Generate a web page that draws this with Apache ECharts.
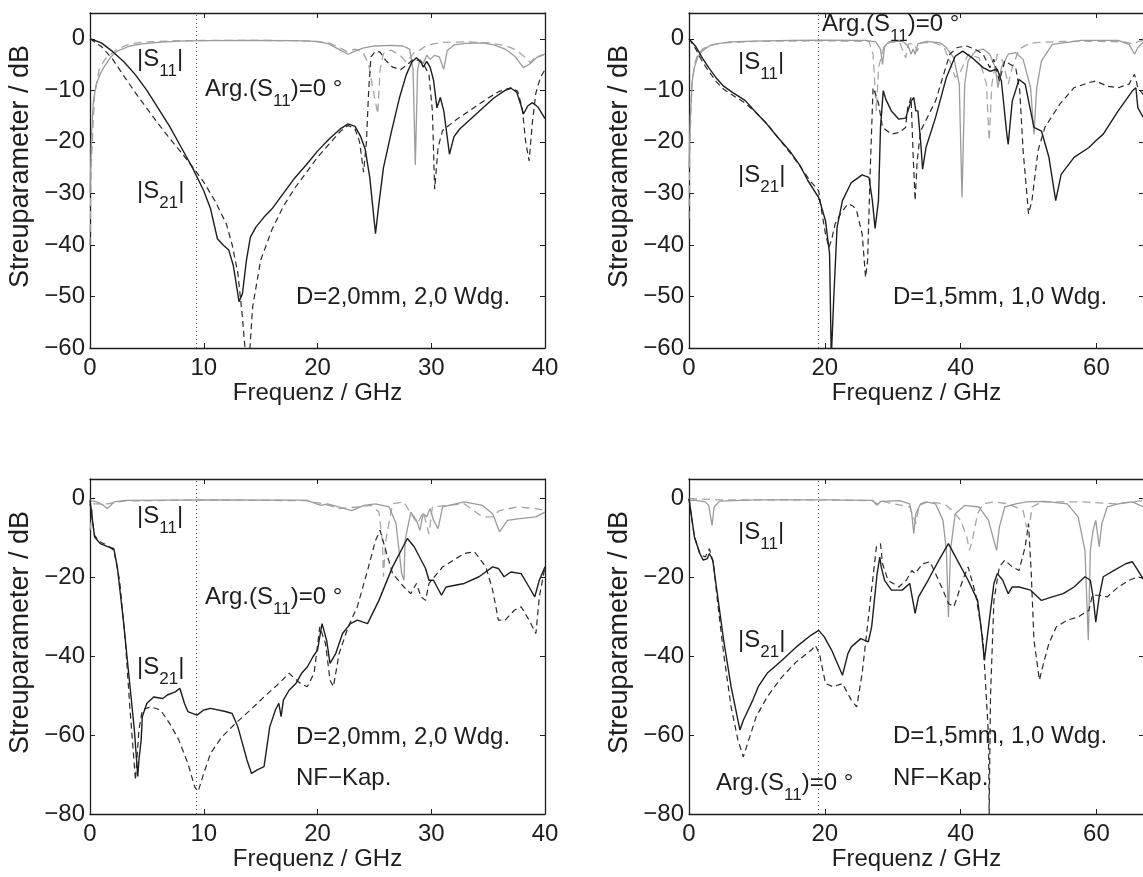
<!DOCTYPE html>
<html><head><meta charset="utf-8">
<script src="https://cdn.jsdelivr.net/npm/echarts@6/dist/echarts.min.js"></script>
<style>html,body{margin:0;padding:0;background:#fff}#c{width:1143px;height:877px}</style>
</head><body><div id="c"></div><script>
const FONT = '"Liberation Sans", Arial, Helvetica, sans-serif';

// ---------- Panel 1 (top-left): D=2,0mm, 2,0 Wdg. ----------
const tlS21Meas = [[0,0],[1,-0.8],[2,-2.5],[3,-4.5],[4,-7],[5,-10],[6,-13.5],[7,-17],[8,-21],[9,-25],[10,-29.5],[10.6,-33],[11.2,-38.8],[11.7,-40],[12.2,-41],[12.6,-44],[13.1,-51],[13.4,-49.5],[13.75,-43],[14.1,-38.5],[14.6,-36.5],[15.3,-34.6],[16,-33],[17,-30],[18,-27],[19,-24.5],[20,-21.8],[21,-19.5],[22,-17.5],[22.7,-16.5],[23.3,-17],[23.8,-19],[24.2,-21.5],[24.6,-27],[25.1,-37.8],[25.4,-32],[25.8,-25],[26.5,-18],[27.2,-11.5],[27.8,-7],[28.3,-4.5],[28.7,-3.7],[29.1,-4.5],[29.3,-5.5],[29.6,-4.4],[29.9,-5.5],[30.2,-8],[30.5,-13.4],[30.8,-11.4],[31.1,-14],[31.4,-19],[31.6,-22.4],[32,-19],[32.5,-17.5],[34,-14.5],[35.5,-11.5],[36.5,-10],[37,-9.6],[37.5,-10.3],[37.9,-13],[38.1,-14.6],[38.5,-13],[38.9,-12.4],[39.4,-13.3],[40,-15.5]];
const tlS21Sim = [[0,0],[1,-1.5],[2,-4],[3,-7.3],[4,-10.5],[5,-13.5],[6,-16.5],[7,-19.3],[8,-22],[9,-24.8],[10,-27.8],[11,-31.5],[12,-36],[12.5,-40],[13,-45.5],[13.4,-54],[13.7,-62],[14.0,-62],[14.3,-52],[15,-43],[16,-37],[17,-32.5],[18,-29],[19,-26],[20,-23],[21,-20.5],[22,-18],[22.7,-16.8],[23.3,-17.5],[23.7,-20],[24.05,-25.9],[24.3,-20],[24.5,-10],[24.7,-3.5],[25.1,-2.4],[25.5,-2.6],[26,-4.2],[26.6,-5.5],[27.3,-6],[27.9,-5],[28.4,-4],[28.9,-4.2],[29.4,-5.2],[29.8,-7],[30.1,-14],[30.3,-29.2],[30.6,-21],[31,-17.8],[32,-16],[33,-14.5],[34,-13],[35,-11.5],[36,-10.2],[37,-9.5],[37.6,-10.2],[38,-13.5],[38.3,-20],[38.6,-23.7],[38.9,-16],[39.2,-10.5],[39.6,-7.5],[40,-6]];
const tlS11Meas = [[0,-30],[0.15,-18],[0.3,-12],[0.56,-8.8],[0.9,-6.8],[1.2,-5.6],[1.8,-3.6],[2.4,-2.4],[3.5,-1.4],[4.6,-1],[6,-0.7],[7.8,-0.45],[10,-0.35],[14,-0.3],[18,-0.35],[20,-0.5],[21,-1],[22,-2.2],[22.7,-3],[23.3,-2.4],[24,-1.8],[25,-1.4],[26.5,-1.3],[27.5,-1.4],[28.1,-2],[28.4,-6],[28.6,-24.5],[28.8,-6],[29,-4],[29.3,-4.8],[29.6,-3.2],[29.9,-4],[30.3,-3.2],[30.7,-3.5],[31.1,-5.9],[31.4,-2.3],[32,-1.2],[33,-0.9],[34.5,-0.8],[35.5,-1.2],[36.5,-2],[37.4,-3.5],[38.1,-5.6],[38.6,-5],[39.3,-3.6],[40,-3]];
const tlS11Sim = [[0,-40],[0.1,-25],[0.4,-10.8],[0.8,-6],[1.3,-4],[2.4,-2],[3.5,-1],[5,-0.6],[8,-0.35],[14,-0.3],[19,-0.4],[21,-0.8],[22,-1.8],[22.6,-2.5],[23.3,-2],[24,-2.6],[24.5,-5],[24.9,-10],[25.3,-14.6],[25.5,-6],[25.8,-2.8],[26.5,-2.2],[27.3,-3.3],[27.8,-4.5],[28.2,-3.5],[28.6,-2.4],[29,-2.2],[29.5,-1.4],[30.2,-1],[31,-0.7],[33,-0.6],[35,-0.8],[36.5,-1.3],[37.5,-2.2],[38.2,-3.5],[38.7,-4.6],[39.2,-3.5],[40,-3]];

// ---------- Panel 2 (top-right): D=1,5mm, 1,0 Wdg. ----------
const trS21Meas = [[0,0],[1,-1.5],[2,-3.8],[2.9,-5.6],[4,-7.6],[5.1,-9.2],[6.5,-10.5],[8.3,-12],[10,-14.5],[11.5,-16.6],[13,-19],[14.8,-21.7],[16.3,-24.5],[17.5,-27.5],[19.1,-30.8],[20.1,-35.3],[20.7,-41.7],[20.95,-62],[21.1,-62],[21.3,-50.8],[21.8,-36.6],[22.6,-31.4],[23.9,-27.9],[25.5,-26.4],[26.5,-26.9],[27,-31.4],[27.4,-36.8],[27.9,-31.4],[28.2,-17.2],[28.6,-10.1],[29,-11.8],[29.8,-14],[30.9,-15.6],[31.9,-15.4],[32.7,-12.1],[33.1,-11.4],[33.4,-14],[33.7,-14],[34.1,-19.8],[34.4,-25.3],[34.9,-21.1],[36.3,-15.3],[37.9,-7.5],[39.2,-3.4],[40.3,-2.4],[41.7,-3.7],[43.3,-5.6],[44.3,-6.3],[45.4,-5.9],[46,-8.2],[46.8,-18.5],[47,-20.5],[47.6,-12.1],[48.6,-7.9],[49.5,-8.8],[50.3,-14],[50.8,-17.2],[51.9,-17.9],[53,-23],[54,-31.4],[54.8,-26.3],[56.7,-23],[58.9,-21.1],[59.9,-19.8],[61,-18.5],[63.2,-14],[65.3,-10.1],[65.8,-9.5],[66.1,-13.4],[67,-15.5]];
const trS21Sim = [[0,0],[1,-2],[2,-4.5],[2.9,-6.3],[4,-8.3],[5.1,-9.8],[6.5,-11],[8.3,-12.5],[10,-14.5],[11.5,-16.5],[13,-19],[14.8,-22],[16.5,-25],[17.8,-27.5],[19.1,-29.5],[19.6,-34],[20.1,-37.9],[20.6,-40.5],[21,-39],[21.5,-36],[22.3,-34],[23.4,-32],[24.2,-32.5],[24.7,-33.5],[25.5,-37.9],[26,-46.3],[26.3,-43],[26.7,-25],[27.1,-9.5],[27.4,-10.5],[27.9,-12.5],[28.5,-17.2],[29.8,-18.5],[30.9,-18.2],[31.9,-17.2],[32.2,-13.4],[32.7,-11.4],[33,-22.4],[33.3,-31.4],[33.6,-23.7],[34.1,-17.9],[36.3,-12.1],[38.4,-3],[39.5,-1.7],[40.9,-1.4],[42.2,-2.1],[43.3,-3],[44.3,-5.6],[44.9,-4],[45.7,-8.2],[46.5,-4.3],[48.1,-5.6],[48.7,-10],[49.2,-21.7],[50,-34],[50.5,-31.4],[51.4,-21.7],[52.4,-17.2],[54.6,-12.7],[56.7,-9.5],[58.9,-8.5],[59.9,-8.2],[61.6,-9.2],[63.2,-9.5],[64.8,-8.8],[65.6,-6.9],[66.1,-9.5],[67,-11]];
const trS11Meas = [[0,-25],[0.2,-15],[0.5,-8],[0.8,-5.6],[1.3,-3.5],[1.9,-2.4],[3,-1.4],[4,-1],[6,-0.6],[9.4,-0.45],[15,-0.3],[20,-0.25],[26,-0.3],[27.5,-0.6],[28.2,-2],[28.5,-5],[28.8,-1.5],[29.5,-0.5],[31.5,-0.5],[32.3,-1.5],[32.7,-3],[33,-2],[33.3,-3],[33.7,-1],[35,-0.5],[37,-0.8],[37.9,-1.7],[39,-3.7],[39.8,-8.8],[40.2,-30.8],[40.6,-8.8],[41.1,-4.3],[42.2,-2.4],[43.3,-2],[44.3,-3],[45.1,-5.6],[45.5,-9.5],[46,-5.6],[47,-3],[48.1,-2.7],[49.2,-4],[50.3,-9.5],[50.8,-18.5],[51.2,-9.5],[51.9,-4.3],[53.5,-1.1],[57.8,-0.3],[63.2,-0.3],[64.8,-1.1],[65.6,-3],[66.1,-1.7],[67,-0.5]];
const trS11Sim = [[0,-35],[0.1,-22],[0.4,-9],[0.8,-5],[1.3,-3],[2,-2],[3,-1.3],[5,-0.8],[10,-0.5],[20,-0.4],[26.5,-0.5],[27.1,-3],[27.6,-14],[27.9,-5.6],[28.8,-1.1],[30,-0.6],[31,-0.7],[31.9,-3.7],[32.3,-1],[33.2,-1],[33.6,-2.4],[34.2,-0.8],[36,-0.7],[37.5,-1.5],[38.4,-4.3],[39.2,-7.5],[40,-6.3],[41.1,-3],[42.7,-3.7],[43.8,-8.8],[44.2,-19.8],[44.6,-8.8],[45.4,-3],[46.2,-4.3],[47,-8.8],[47.6,-5.6],[48.6,-2],[50.3,-0.8],[55,-0.5],[60,-0.5],[64,-0.6],[65.5,-1],[66.2,-0.5],[67,-0.3]];

// ---------- Panel 3 (bottom-left): D=2,0mm, 2,0 Wdg., NF-Kap. ----------
const blS21Meas = [[0,-0.4],[0.4,-9.7],[0.9,-11.4],[1.5,-12.1],[2.1,-12.7],[2.4,-17.3],[2.9,-30],[3.4,-44.3],[3.9,-58.7],[4.2,-70.5],[4.3,-66.3],[4.5,-61.2],[4.6,-55.3],[5,-51.9],[5.6,-50.3],[6.4,-50.7],[6.8,-49.8],[7.5,-49],[7.9,-48.1],[8.3,-51.9],[8.6,-54],[9.4,-54.9],[10,-53.6],[10.6,-53.2],[11.9,-54],[12.5,-54.5],[13,-57.9],[13.8,-66.3],[14.2,-69.7],[14.7,-68.8],[15.3,-68],[15.8,-57.9],[16.3,-53.6],[16.6,-51.9],[16.8,-55.3],[17,-51.1],[17.5,-48.6],[18.1,-46.9],[18.6,-44.3],[19.1,-42.7],[19.6,-40.1],[20,-38.4],[20.4,-31.7],[20.8,-35.9],[21.1,-41.8],[21.6,-39.3],[22.2,-34.2],[22.9,-31.7],[23.5,-30.8],[24.4,-31.7],[25.4,-25.8],[26.6,-17.3],[27.9,-10.1],[28.5,-12.2],[29.5,-17.7],[29.8,-20.7],[30.2,-20.7],[30.9,-24.5],[31.3,-22.4],[32.9,-21.5],[34.2,-19.8],[35.4,-17.3],[35.9,-17.7],[36.4,-19.8],[37,-18.6],[37.9,-19],[38.6,-22.4],[39.1,-24.9],[39.5,-20.7],[40,-17.3]];
const blS21Sim = [[0,-1.3],[0.4,-9.3],[0.9,-11],[1.5,-11.8],[2.1,-13.1],[2.6,-20.7],[3.1,-35.9],[3.5,-52.8],[4,-71.4],[4.3,-58.7],[4.6,-53.6],[5.3,-52.8],[6.2,-53.6],[7,-57],[7.8,-61.2],[8.6,-67.1],[9.2,-73.1],[9.5,-74.3],[10,-69.7],[10.6,-64.6],[11.6,-60.4],[12.8,-57],[14.1,-53.6],[15.3,-50.3],[16.6,-46.9],[17.5,-44.3],[18.5,-46.9],[19.1,-47.7],[19.7,-44.3],[20.2,-32.5],[20.7,-36.7],[21.1,-46],[21.4,-47.7],[21.9,-39.3],[22.7,-32.5],[23.5,-27.4],[24.4,-18.2],[25.1,-10.6],[25.5,-8],[26,-13.1],[26.6,-19],[27.6,-22.4],[28.2,-24.1],[28.7,-21.5],[29.1,-24.9],[29.5,-25.8],[29.8,-21.5],[31,-17.3],[32.9,-13.9],[33.8,-13.5],[34.8,-17.3],[35.4,-23.2],[35.9,-30.8],[36.5,-30.8],[37.3,-28.3],[37.9,-27.4],[38.6,-30.8],[39.2,-34.2],[39.5,-24.9],[40,-17.3]];
const blS11Meas = [[0,-0.4],[0.6,-0.8],[1.2,-1.7],[1.5,-2.5],[1.8,-1.8],[2.1,-0.8],[3.1,-0.4],[10,-0.3],[19,-0.35],[20.3,-1.7],[20.9,-1.3],[22,-2.2],[23,-3],[24.1,-1.7],[25.1,-1.3],[26.3,-2.1],[26.9,-6.3],[27.4,-19],[27.6,-20.7],[27.7,-10.6],[28.2,-3.4],[28.7,-5.5],[29,-8],[29.3,-3.8],[29.6,-4.6],[29.9,-2.5],[30.2,-5.5],[30.6,-7.6],[31,-2.1],[32.9,-0.8],[34.5,-1.7],[35.4,-3.8],[36,-8.4],[36.7,-5.5],[37.6,-5.1],[39.2,-4.6],[40,-3.4]];
const blS11Sim = [[0,-8],[0.3,-1.3],[1.5,-1.3],[3,-0.6],[10,-0.3],[19,-0.5],[20.5,-1.3],[21.9,-2.5],[23.5,-2.1],[24.7,-1.7],[25.4,-3.4],[25.7,-10.6],[25.8,-19.8],[26,-10.6],[26.6,-1.3],[27.6,-0.8],[28.2,-3.8],[28.8,-6.3],[29.3,-3.4],[29.8,-8.9],[30.1,-2.1],[32.9,-1.3],[34.5,-4.6],[35.4,-4.6],[36,-3],[37.6,-2.1],[39.2,-2.5],[40,-3]];

// ---------- Panel 4 (bottom-right): D=1,5mm, 1,0 Wdg., NF-Kap. ----------
const brS21Meas = [[0,0],[0.8,-9.7],[1.6,-13.9],[2.1,-15.6],[2.7,-15.2],[3,-13.9],[3.5,-15.6],[4.3,-25.8],[5.1,-35.9],[6.2,-47.7],[7.5,-58.7],[8,-56.2],[9.4,-51.1],[10.2,-47.7],[11.5,-44.3],[13.7,-41],[15.8,-37.6],[18,-34.6],[19.1,-33.4],[19.9,-35],[21,-38.4],[22.6,-44.8],[23.4,-39.3],[23.9,-37.6],[25.3,-35.5],[26.4,-36.3],[26.9,-32.5],[27.7,-19],[28.1,-14.8],[28.3,-17.3],[28.8,-20.7],[29.8,-23.2],[31.4,-23.2],[32.5,-21.5],[33.3,-29.1],[33.8,-24.9],[35.2,-20.7],[36.8,-15.6],[38.2,-11.4],[39.5,-15.6],[41.1,-20.7],[42.5,-25.8],[43,-32.5],[43.5,-41],[44.1,-32.5],[44.9,-21.5],[45.4,-19],[46.2,-20.7],[47,-24.1],[47.6,-22.4],[48.6,-22.4],[50.3,-23.2],[51.9,-25.8],[53.5,-24.9],[55.1,-24.1],[56.7,-22.4],[58.3,-19.8],[59.1,-20.7],[59.5,-24.9],[59.9,-31.3],[60.4,-24.9],[61,-19.8],[62.6,-18.2],[64.3,-16.5],[65.3,-16],[66.1,-18.2],[67,-20.7]];
const brS21Sim = [[0,0],[0.8,-9.7],[1.6,-14],[2.4,-14.8],[3,-12.7],[3.6,-16.5],[4.3,-27.6],[5.1,-39.3],[6.2,-52.8],[7.2,-61.2],[8,-65.5],[8.8,-61.2],[9.9,-55.3],[11.5,-50.3],[13.7,-45.2],[15.8,-41.4],[18,-38.4],[18.6,-37.2],[19.2,-39.3],[20.1,-46.9],[21.2,-47.7],[22.6,-46.9],[23.9,-51.1],[24.7,-52.8],[25.5,-44.3],[26.6,-27.4],[27.6,-12.2],[28.2,-11.4],[28.5,-16.5],[29.3,-20.7],[30.9,-22.4],[32,-20.7],[32.8,-18.2],[33.3,-19],[34.4,-16.5],[35.5,-16],[36.3,-19],[37.4,-23.2],[38.2,-26.6],[39,-27.4],[39.5,-24.9],[40.3,-20.7],[41.1,-17.3],[42.2,-24.1],[43.3,-35.9],[44.1,-60],[44.2,-80],[44.4,-50],[44.9,-25.8],[45.7,-17.3],[46.5,-15.6],[47.6,-17.3],[48.6,-18.2],[49.5,-12.2],[50,-6.3],[50.4,-19],[50.8,-35.9],[51.6,-46],[52.2,-41.8],[53,-36.7],[54.1,-32.5],[55.7,-30.8],[57.3,-30],[58.9,-28.3],[59.4,-24.5],[60.4,-24.5],[61.6,-24.9],[63.2,-22.4],[64.8,-20.7],[66.1,-19.8],[67,-20.3]];
const brS11Meas = [[0,-0.4],[1,-0.4],[2.4,-0.8],[2.9,-1.7],[3.4,-6.8],[3.7,-2.1],[4.5,-0.6],[10,-0.3],[20,-0.3],[27,-0.4],[27.7,-1.7],[28.2,-0.7],[31,-0.5],[32.5,-1.3],[32.8,-3.8],[33.1,-8.9],[33.4,-3.8],[34.1,-1.3],[34.9,-0.8],[36.3,-1.3],[37.4,-5.5],[37.9,-13.1],[38.2,-30],[38.5,-13.1],[39.2,-3.8],[40.6,-1.7],[42.7,-2.1],[44.1,-5.5],[44.9,-10.6],[45.3,-13.1],[45.7,-7.2],[46.5,-2.1],[48.1,-1.3],[49.7,-0.8],[52.4,-0.7],[55.7,-1.3],[57.3,-4.6],[58.3,-13.1],[58.8,-35.9],[59.1,-13.1],[59.5,-8],[59.9,-5.5],[60.4,-12.2],[60.8,-6.3],[61.6,-2.1],[63.2,-1.3],[65.3,-0.8],[66.4,-1.7],[67,-2.1]];
const brS11Sim = [[0,0],[5,-0.3],[20,-0.3],[27,-0.5],[27.7,-1.3],[28.5,-0.7],[32.5,-2.1],[33.4,-6.3],[33.9,-1.7],[35.2,-0.8],[37,-1.2],[37.9,-1.7],[39,-3.4],[40,-5.5],[40.9,-9.7],[41.3,-13.1],[41.7,-10.6],[42.5,-3.8],[43.3,-1.3],[44.9,-0.8],[47,-1.3],[49.2,-3],[49.7,-7.2],[50.2,-6.3],[50.5,-2.1],[51.9,-0.8],[58,-0.8],[63,-1.3],[67,-0.4]];

// Position of the Arg.(S11)=0° marker lines (GHz), per panel
const argLineX = [9.3, 19.1, 9.3, 19.1];
// Axis ranges per panel
const xMaxes = [40, 67, 40, 67];
const xSteps = [10, 20, 10, 20];
const yMins = [-60, -60, -80, -80];
const yMaxes = [5, 5, 5, 5];
const ySteps = [10, 10, 20, 20];

const panels = [
  {grid:{left:90, top:13, width:455, height:335}, data:[tlS21Meas, tlS21Sim, tlS11Meas, tlS11Sim]},
  {grid:{left:689, top:13, width:455, height:335}, data:[trS21Meas, trS21Sim, trS11Meas, trS11Sim]},
  {grid:{left:90, top:479, width:455, height:335}, data:[blS21Meas, blS21Sim, blS11Meas, blS11Sim]},
  {grid:{left:689, top:479, width:455, height:335}, data:[brS21Meas, brS21Sim, brS11Meas, brS11Sim]}
];

const INK = '#1e1e1e';
const GRAY = '#9b9b9b';
const lineStyles = [
  {color: INK, width: 1.4, type: 'solid'},
  {color: '#2a2a2a', width: 1.2, type: [6, 4]},
  {color: GRAY, width: 1.3, type: 'solid'},
  {color: '#a6a6a6', width: 1.3, type: [8, 5]}
];
const minus = v => String(v).replace('-', '\u2212');

const grid = [], xAxis = [], yAxis = [], series = [];
panels.forEach((p, i) => {
  grid.push(Object.assign({show: false, containLabel: false, outerBoundsMode: 'none'}, p.grid));
  const axLine = {show: true, onZero: false, lineStyle: {color: INK, width: 1.3}};
  const tick = {show: true, inside: true, length: 5, lineStyle: {color: INK, width: 1}};
  xAxis.push({
    type: 'value', gridIndex: i, min: 0, max: xMaxes[i], interval: xSteps[i], position: 'bottom',
    axisLine: axLine, axisTick: tick, splitLine: {show: false},
    axisLabel: {fontSize: 24, fontFamily: FONT, color: INK, margin: 8, showMaxLabel: xMaxes[i] === 40, formatter: minus},
    name: 'Frequenz / GHz', nameLocation: 'middle', nameGap: 30,
    nameTextStyle: {fontSize: 24, fontFamily: FONT, color: INK}
  });
  xAxis.push({
    type: 'value', gridIndex: i, min: 0, max: xMaxes[i], interval: xSteps[i], position: 'top',
    axisLine: axLine, axisTick: tick, splitLine: {show: false}, axisLabel: {show: false}
  });
  yAxis.push({
    type: 'value', gridIndex: i, min: yMins[i], max: yMaxes[i], interval: ySteps[i], position: 'left',
    axisLine: axLine, axisTick: tick, splitLine: {show: false},
    axisLabel: {fontSize: 24, fontFamily: FONT, color: INK, margin: 5, showMaxLabel: false, formatter: minus},
    name: 'Streuparameter / dB', nameLocation: 'middle', nameGap: 56, nameRotate: 90,
    nameTextStyle: {fontSize: 27, fontFamily: FONT, color: INK, padding: [0, 0, 0, 28]}
  });
  yAxis.push({
    type: 'value', gridIndex: i, min: yMins[i], max: yMaxes[i], interval: ySteps[i], position: 'right',
    axisLine: axLine, axisTick: tick, splitLine: {show: false}, axisLabel: {show: false}
  });
  p.data.forEach((d, k) => {
    const s = {
      type: 'line', xAxisIndex: 2 * i, yAxisIndex: 2 * i, data: d, showSymbol: false, symbol: 'none',
      smooth: false, clip: true, lineStyle: lineStyles[k], silent: true, animation: false, z: 10 - k
    };
    if (k === 0) {
      s.markLine = {
        silent: true, symbol: 'none', animation: false, label: {show: false},
        lineStyle: {color: '#555', width: 1, type: [1, 3]},
        data: [{xAxis: argLineX[i]}]
      };
    }
    series.push(s);
  });
});

// Annotations (with subscripts)
const sub = {s: {fontSize: 17, fontFamily: FONT, fill: INK, padding: [24, 0, 0, 0]}};
function label(x, y, text) {
  return {type: 'text', x: x, y: y, z: 100, silent: true,
    style: {text: text, fontSize: 24, fontFamily: FONT, fill: INK, verticalAlign: 'middle', align: 'left', rich: sub}};
}
const S11 = '|S{s|11}|', S21 = '|S{s|21}|', ARG = 'Arg.(S{s|11})=0 \u00b0';
const graphic = [
  label(137, 59, S11), label(205, 89, ARG), label(137, 191, S21), label(296, 297, 'D=2,0mm, 2,0 Wdg.'),
  label(822, 24, ARG), label(738, 62, S11), label(738, 175, S21), label(893, 297, 'D=1,5mm, 1,0 Wdg.'),
  label(137, 516, S11), label(205, 597, ARG), label(137, 667, S21), label(296, 737, 'D=2,0mm, 2,0 Wdg.'), label(296, 778, 'NF\u2212Kap.'),
  label(738, 532, S11), label(738, 640, S21), label(716, 783, ARG), label(893, 736, 'D=1,5mm, 1,0 Wdg.'), label(893, 778, 'NF\u2212Kap.')
];

const chart = echarts.init(document.getElementById('c'), null, {renderer: 'canvas'});
chart.setOption({
  backgroundColor: '#ffffff', animation: false,
  grid, xAxis, yAxis, series, graphic
});
</script></body></html>
